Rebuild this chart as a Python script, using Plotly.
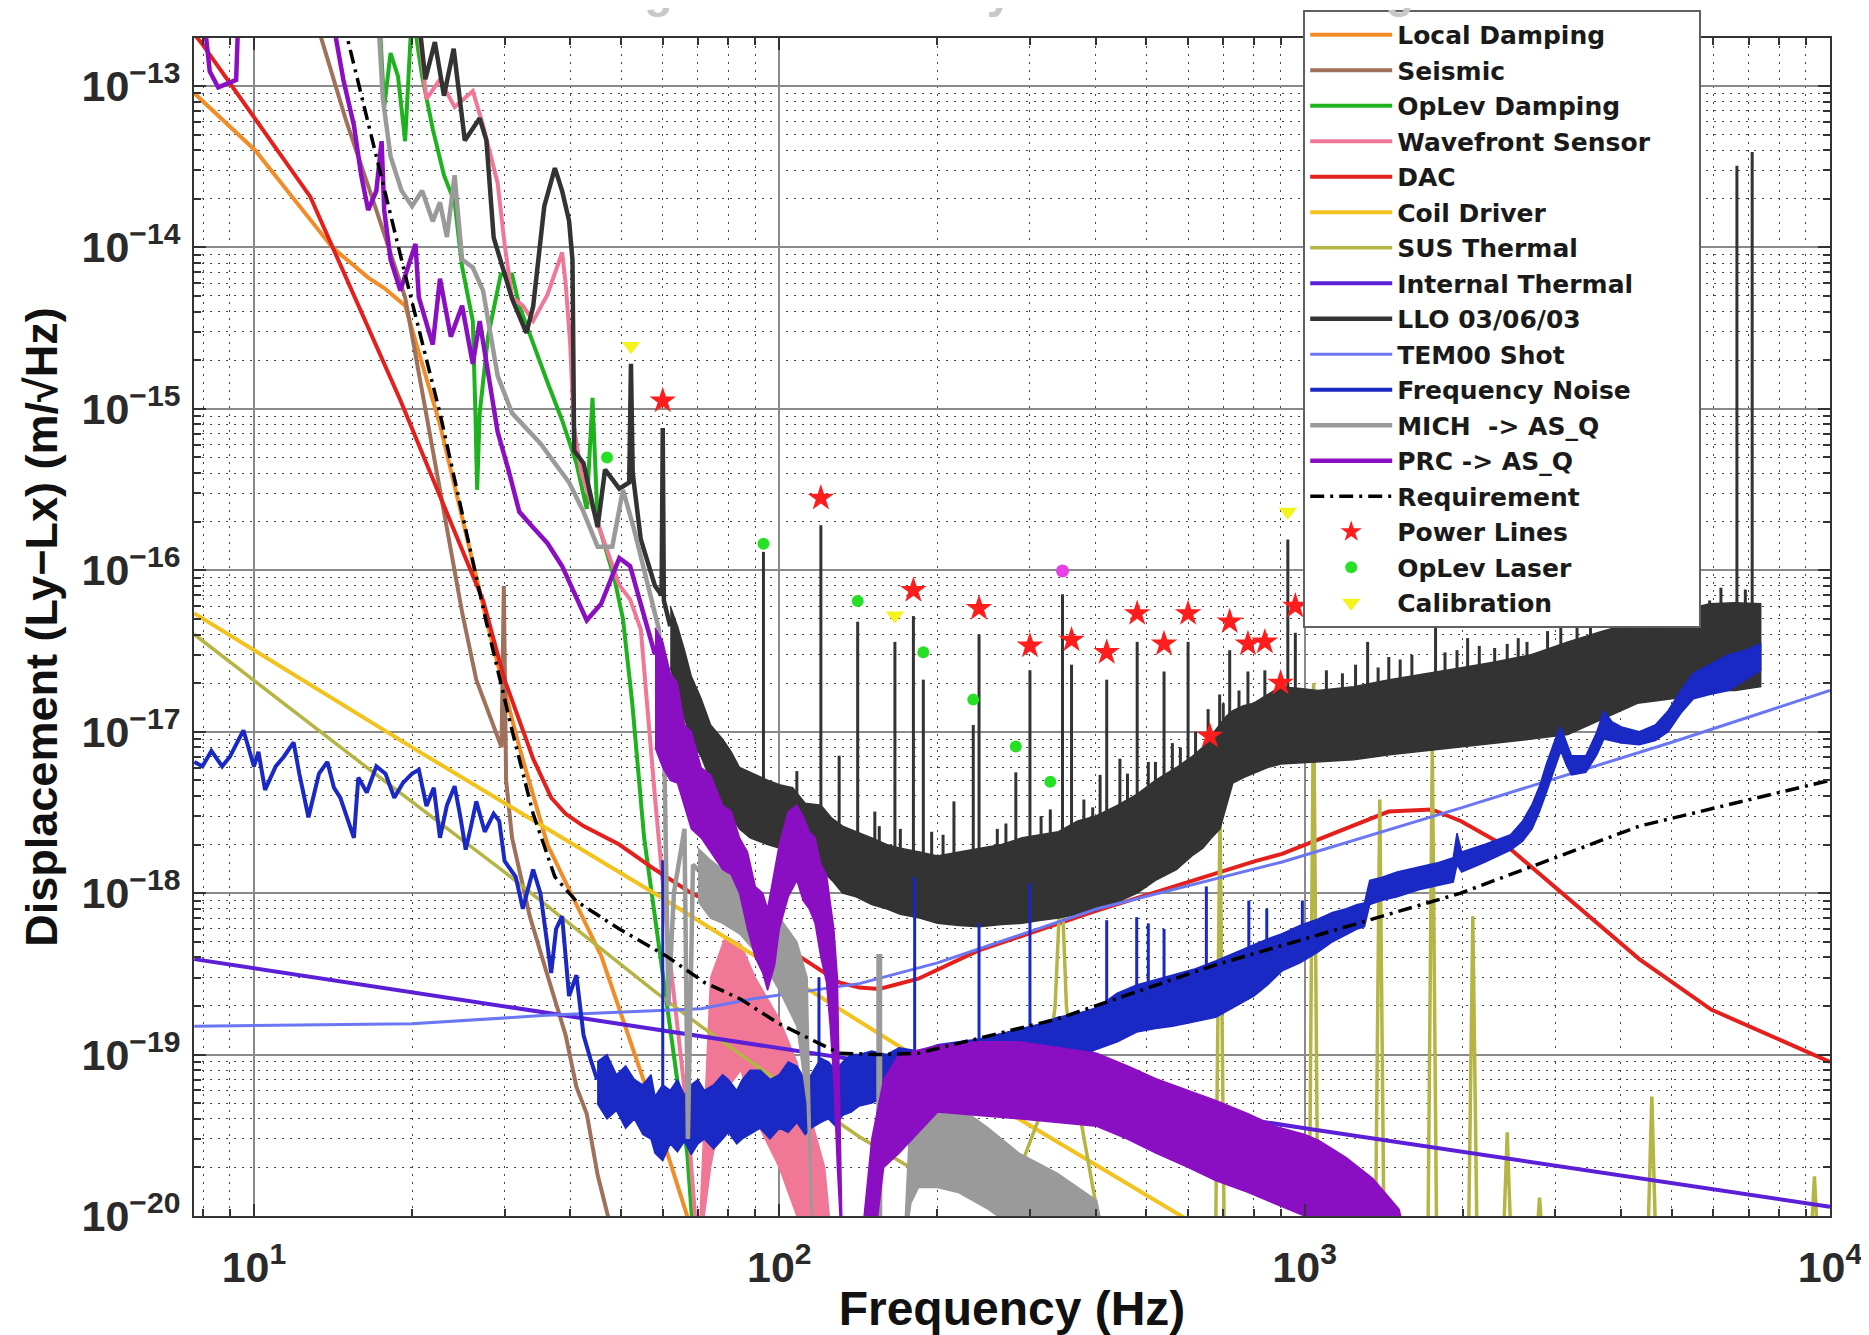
import numpy as np
import plotly.graph_objects as go

FONT = "Liberation Sans, Arial, Helvetica, sans-serif"
LFONT = "DejaVu Sans, Liberation Sans, Arial, sans-serif"
FLOOR = 5e-21  # value below the bottom of the y range

# ---------------- data (frequency in Hz, displacement in m/rtHz) ----------------
ld_f = [7.7, 10.05, 14.1, 16.5, 17.7, 19.4, 22.6, 27.9, 32.0, 36.2, 45.8, 57.1, 66.8, 70.0]
ld_v = [9.0e-14, 4.0e-14, 1.0e-14, 6.5e-15, 5.6e-15, 4.35e-15, 8e-16, 4.5e-17, 8e-18, 2.0e-18, 4.1e-19, 5e-20, 1e-20, 6e-21]

seis_f = [13.3, 15.0, 17.1, 19.4, 22.6, 24.9, 26.5, 28.2, 29.6, 29.9, 30.2, 31.0, 33.5, 36.2, 39.2, 41.1, 43.0, 45.1, 47.3, 48.5]
seis_v = [2.2e-13, 6e-14, 1.7e-14, 4.9e-15, 3.15e-16, 5.5e-17, 2.1e-17, 1.2e-17, 8e-18, 8e-17, 5e-18, 2.2e-18, 7.2e-19, 3.1e-19, 1.32e-19, 6.3e-20, 4.3e-20, 1.8e-20, 1e-20, 7e-21]

old_f = [17.3, 17.7, 18.2, 18.8, 19.4, 20.0, 20.9, 21.9, 23.0, 24.1, 24.9, 26.1, 26.4, 26.6, 26.9, 27.9, 29.5, 31.0, 32.0, 34.0,
         36.2, 38.6, 41.1, 43.0, 44.1, 45.1, 48.5, 50.4, 52.5, 55.3, 58.0, 60.8, 63.8, 66.8, 68.5]
old_v = [3e-13, 7.4e-14, 1.6e-13, 1.15e-13, 4.55e-14, 3e-13, 1.15e-13, 5.4e-14, 2.8e-14, 1.9e-14, 7.6e-15, 3.5e-15, 9.4e-16, 3.15e-16, 9.4e-16, 2.8e-15, 6.8e-15, 6.8e-15, 4.35e-15, 2.5e-15,
         1.46e-15, 8.5e-16, 4.6e-16, 2.4e-16, 1.17e-15, 2.0e-16, 9e-17, 5e-17, 1.5e-17, 2.2e-18, 7.2e-19, 2.3e-19, 7.6e-20, 2.45e-20, 8e-21]

wfs_f = [20.4, 21.3, 22.6, 24.1, 26.1, 27.3, 29.1, 30.0, 31.0, 32.5, 34.0, 36.2, 38.6, 39.2, 40.0, 40.6, 42.0, 45.0, 49.6, 52.0,
         54.5, 58.0, 61.8, 66.8, 69.5]
wfs_v = [3e-13, 8.3e-14, 1.1e-13, 7.4e-14, 9.3e-14, 5.7e-14, 2.5e-14, 1.05e-14, 4.9e-15, 4.35e-15, 3.5e-15, 5.1e-15, 9.3e-15, 6e-15, 2.5e-15, 8e-16, 4e-16, 2e-16, 8.1e-17, 6.6e-17,
         4.3e-17, 3.9e-18, 4.1e-19, 4.3e-20, 8e-21]
wfs_b_f = [70, 74, 79, 84.5, 90, 100, 108, 115, 122, 127]
wfs_b_hi = [5e-21, 3e-19, 5.4e-19, 4.8e-19, 3e-19, 1.66e-19, 9e-20, 4e-20, 2e-20, 5e-21]
wfs_b_lo = [5e-21, 2e-20, 6e-20, 8e-20, 4e-20, 2e-20, 1e-20, 5e-21, 5e-21, 5e-21]

dac_f = [7.7, 7.95, 12.8, 19.0, 27.3, 30.0, 34.0, 36.8, 39.2, 42.4, 49.6, 58, 68, 92, 110, 130, 142, 155, 184, 239,
         402, 805, 906, 1445, 1745, 1982, 2466, 3170, 4335, 5940, 10000]
dac_v = [2.1e-13, 1.84e-13, 2.06e-14, 1.13e-15, 6.5e-17, 2.1e-17, 6.8e-18, 3.9e-18, 3.1e-18, 2.6e-18, 2.0e-18, 1.4e-18, 1.0e-18, 6.2e-19, 4.0e-19, 2.8e-19, 2.6e-19, 2.55e-19, 2.95e-19, 4.4e-19,
         7.8e-19, 1.58e-18, 1.75e-18, 3.2e-18, 3.3e-18, 2.8e-18, 1.87e-18, 9.3e-19, 3.9e-19, 1.9e-19, 9.0e-20]

cd_f = [7.7, 20, 59, 71, 200, 598, 700]
cd_v = [5.4e-17, 8.0e-18, 9.6e-19, 6.6e-19, 8.0e-20, 9.5e-21, 7e-21]

sus_f = [7.7, 16.3, 30, 58, 70.9, 88.3, 142, 200, 239, 286, 316, 335, 344, 352, 370, 402, 430]
sus_v = [4.0e-17, 6.1e-18, 1.35e-18, 2.45e-19, 1.5e-19, 9e-20, 3.1e-20, 1.58e-20, 1.5e-20, 1.9e-20, 4.5e-20, 2e-19, 1.4e-18, 2e-19, 5e-20, 1.1e-20, 5e-21]
sus_spike_f = [690, 1040, 1390, 1750, 2090, 2430, 2800, 4580, 9340]
sus_spike_top = [3.2e-18, 2e-17, 3.8e-18, 8.5e-18, 7.2e-19, 3.3e-20, 1.3e-20, 5.5e-20, 1.76e-20]

it_f = [7.7, 100, 1000, 10000]
it_v = [3.9e-19, 1.1e-19, 3.5e-20, 1.14e-20]

llo_f = [20.5, 21.2, 22.1, 23.0, 24.0, 25.2, 26.9, 27.7, 28.6, 31.0, 33.0, 34.0, 35.7, 37.4, 38.6, 39.8, 40.4, 40.7, 42.4, 45.1,
         46.6, 49.6, 51.8, 52.2, 52.6, 54.5, 58.0, 59.7, 60.0, 60.3, 62.0]
llo_v = [3e-13, 1.1e-13, 1.87e-13, 8.7e-14, 1.7e-13, 4.6e-14, 6.3e-14, 4.6e-14, 1.15e-14, 4.8e-15, 2.95e-15, 4.3e-15, 1.8e-14, 3.1e-14, 2.24e-14, 1.46e-14, 8.3e-15, 5.5e-16, 4.6e-16, 1.85e-16,
         4.2e-16, 3.2e-16, 3.5e-16, 1.9e-15, 4.0e-16, 1.55e-16, 8.0e-17, 7.0e-17, 7.6e-16, 6.5e-17, 4.5e-17]
llo_b_f = [62, 64, 66, 68, 71, 74, 78, 81, 84, 88, 95, 100, 106, 112, 120, 126, 132, 140, 150, 160,
           170, 185, 200, 220, 240, 265, 290, 315, 340, 370, 400, 440, 480, 520, 570, 610, 640, 665, 690, 710,
           730, 765, 800, 850, 900, 980, 1060, 1150, 1240, 1450, 1700, 2000, 2300, 2700, 3170, 3700, 4300, 5000, 5900, 6600,
           7380]
llo_b_hi = [6e-17, 4.5e-17, 3.2e-17, 2.2e-17, 1.6e-17, 1.1e-17, 9e-18, 7.5e-18, 6e-18, 5.6e-18, 5e-18, 4.7e-18, 4.5e-18, 3.6e-18, 3.5e-18, 2.9e-18, 2.6e-18, 2.4e-18, 2.2e-18, 2.0e-18,
            1.9e-18, 1.8e-18, 1.7e-18, 1.8e-18, 1.9e-18, 2.0e-18, 2.2e-18, 2.3e-18, 2.4e-18, 2.8e-18, 3.0e-18, 3.5e-18, 4.1e-18, 5.0e-18, 6.0e-18, 7.0e-18, 8.0e-18, 9.5e-18, 1.1e-17, 1.25e-17,
            1.35e-17, 1.45e-17, 1.5e-17, 1.7e-17, 1.9e-17, 1.85e-17, 1.8e-17, 1.85e-17, 1.9e-17, 2.1e-17, 2.3e-17, 2.5e-17, 2.7e-17, 3.0e-17, 3.6e-17, 4.2e-17, 4.8e-17, 5.4e-17, 6.2e-17, 6.3e-17,
            6.2e-17]
llo_b_lo = [2.5e-17, 1.8e-17, 1.2e-17, 9e-18, 7e-18, 5e-18, 3.5e-18, 3e-18, 2.5e-18, 2.2e-18, 2.0e-18, 1.9e-18, 1.8e-18, 1.6e-18, 1.4e-18, 1.2e-18, 1.0e-18, 9.5e-19, 8.5e-19, 8e-19,
            7.4e-19, 7e-19, 6.5e-19, 6.3e-19, 6.2e-19, 6.4e-19, 6.5e-19, 6.8e-19, 7e-19, 7.4e-19, 7.8e-19, 8.8e-19, 1e-18, 1.2e-18, 1.4e-18, 1.7e-18, 1.9e-18, 2.2e-18, 2.5e-18, 3.5e-18,
            4.8e-18, 5.2e-18, 5.5e-18, 6e-18, 6.3e-18, 6.4e-18, 6.5e-18, 6.6e-18, 6.7e-18, 7.2e-18, 7.6e-18, 8e-18, 8.5e-18, 9e-18, 9.6e-18, 1.2e-17, 1.5e-17, 1.6e-17, 1.8e-17, 1.8e-17,
            1.9e-17]
llo_spike_f = [93.3, 108, 120, 130, 141, 152, 166, 180, 188, 215, 234, 240, 282, 300, 328, 346, 360, 408, 420, 445,
               480, 504, 540, 600, 655, 689, 720, 750, 780, 840, 900, 929, 960, 1318, 1446, 1775, 2043, 2430, 3073, 5900,
               6650, 7110,
               155, 170, 195, 205, 260, 270, 315, 380, 395, 460, 520, 560, 580, 620, 700, 1100, 1180, 1250, 1380, 1520,
               1600, 1850, 1950, 2150, 2300, 2550, 2650, 2900, 3300, 3500, 3900, 4100, 4500, 4800, 5300, 5600, 6200, 6900]
llo_spike_top = [1.3e-16, 5.7e-18, 1.9e-16, 7.1e-18, 4.8e-17, 3.2e-18, 3.6e-17, 5.2e-17, 2.1e-17, 3.7e-18, 1.1e-17, 4.0e-17, 5.6e-18, 2.4e-17, 3.3e-18, 7.1e-17, 2.6e-17, 5.4e-18, 2.1e-17, 6.8e-18,
                 3.6e-17, 6.5e-18, 2.36e-17, 3.6e-17, 1.38e-17, 1.7e-17, 3.2e-17, 1.8e-17, 2.36e-17, 2.4e-17, 1.7e-17, 1.55e-16, 4.1e-17, 3.6e-17, 2.9e-17, 4.8e-17, 3.8e-17, 3.5e-17, 4.5e-17, 6.5e-17,
                 3.2e-14, 3.9e-14,
                 2.6e-18, 2.5e-18, 2.4e-18, 2.3e-18, 2.5e-18, 2.7e-18, 3.0e-18, 3.8e-18, 3.4e-18, 5.5e-18, 6.5e-18, 8.5e-18, 8e-18, 1.0e-17, 1.5e-17, 2.4e-17, 2.3e-17, 2.6e-17, 2.5e-17, 2.8e-17,
                 3.0e-17, 3.1e-17, 3.2e-17, 3.4e-17, 3.3e-17, 3.8e-17, 3.6e-17, 4.2e-17, 4.8e-17, 5.2e-17, 5.6e-17, 5.8e-17, 6.4e-17, 6.6e-17, 7.2e-17, 7.5e-17, 7.8e-17, 7.6e-17]

shot_f = [7.7, 20, 36, 71, 88, 142, 200, 403, 906, 2000, 5000, 10000]
shot_v = [1.5e-19, 1.55e-19, 1.75e-19, 1.92e-19, 2.2e-19, 2.75e-19, 3.7e-19, 8.0e-19, 1.56e-18, 3.4e-18, 8.6e-18, 1.8e-17]

fn_f = [7.7, 7.98, 8.3, 8.7, 9.0, 9.55, 10.0, 10.2, 10.5, 11.0, 11.4, 11.9, 12.2, 12.7, 13.3, 13.8, 14.2, 14.6, 15.5, 15.8,
        16.4, 17.1, 17.8, 18.5, 19.2, 20.0, 20.6, 21.3, 22.0, 22.6, 23.3, 24.1, 24.7, 25.3, 25.9, 26.5, 27.5, 28.6, 29.3, 30.0,
        31.5, 32.5, 34.0, 35.1, 36.8, 37.6, 38.6, 39.8, 41.1, 42.4, 43.7, 45]
fn_v = [6.5e-18, 6.1e-18, 7.6e-18, 6.1e-18, 7.0e-18, 1.02e-17, 6.1e-18, 7.5e-18, 4.36e-18, 6.1e-18, 7.0e-18, 8.6e-18, 5.5e-18, 2.95e-18, 5.5e-18, 6.5e-18, 4.5e-18, 3.9e-18, 2.2e-18, 5.2e-18,
        4.2e-18, 6.1e-18, 5.5e-18, 3.9e-18, 4.8e-18, 5.5e-18, 5.8e-18, 3.46e-18, 4.5e-18, 2.2e-18, 3.5e-18, 4.6e-18, 3.0e-18, 1.86e-18, 2.6e-18, 3.7e-18, 2.4e-18, 3.1e-18, 2.8e-18, 1.58e-18,
        1.26e-18, 8.0e-19, 1.4e-18, 1.0e-18, 3.2e-19, 6e-19, 7.2e-19, 2.3e-19, 3.1e-19, 1.32e-19, 9.4e-20, 7e-20]
# low-frequency part of the frequency-noise band (45-142 Hz), read with its ragged edges
fn_b1_f = [45, 47, 49, 51, 53, 55, 57, 58, 60, 62, 64, 66, 68, 70, 72, 75, 78, 80, 83, 85,
           88, 92, 96, 100, 104, 108, 112, 115, 120, 124, 128, 132, 137, 142]
fn_b1_hi = [9e-20, 1.0e-19, 7.5e-20, 8.5e-20, 7e-20, 6.5e-20, 7.5e-20, 5.5e-20, 6.5e-20, 6e-20, 7e-20, 5.6e-20, 6.5e-20, 7e-20, 6e-20, 6.5e-20, 7.5e-20, 7e-20, 6e-20, 7e-20,
            8e-20, 8e-20, 7e-20, 7.5e-20, 9e-20, 8.5e-20, 7e-20, 7.5e-20, 9.5e-20, 9e-20, 8e-20, 9e-20, 1.0e-19, 1.0e-19]
fn_b1_lo = [5e-20, 4e-20, 4.5e-20, 3.5e-20, 4e-20, 3.2e-20, 3e-20, 2.45e-20, 2.2e-20, 2.8e-20, 2.5e-20, 2.9e-20, 2.4e-20, 2.8e-20, 3e-20, 2.6e-20, 3e-20, 3.3e-20, 2.8e-20, 3e-20,
            3.2e-20, 3.5e-20, 3e-20, 3.5e-20, 3.3e-20, 3.8e-20, 3.2e-20, 3.5e-20, 3.8e-20, 4e-20, 3.6e-20, 4.2e-20, 4.4e-20, 4.8e-20]
fn_b2_f = [150, 160, 169,
           185, 200, 220, 240, 265, 290, 315, 338, 370, 402, 440, 479, 520, 560, 620, 677, 740, 800, 850, 906,
           980, 1058, 1130, 1200, 1260, 1300, 1330, 1400, 1500, 1650, 1800, 1918, 1950, 1990, 2200, 2466, 2600, 2710, 2800, 2885,
           3000, 3073, 3150, 3220, 3430, 3600, 3710, 3850, 4010, 4335, 4650, 4920, 5200, 5495, 5900, 6410, 6900, 7380]
fn_b2_hi = [1.05e-19, 1.0e-19, 1.1e-19,
            1.05e-19, 1.15e-19, 1.2e-19, 1.25e-19, 1.35e-19, 1.45e-19, 1.55e-19, 1.7e-19, 1.8e-19, 1.95e-19, 2.4e-19, 2.7e-19, 2.9e-19, 3.1e-19, 3.4e-19, 3.8e-19, 4.3e-19, 4.8e-19, 5.2e-19, 5.6e-19,
            6.3e-19, 6.9e-19, 7.6e-19, 8.0e-19, 8.5e-19, 8.7e-19, 1.2e-18, 1.25e-18, 1.35e-18, 1.45e-18, 1.55e-18, 1.66e-18, 2.35e-18, 1.8e-18, 2.0e-18, 2.3e-18, 2.8e-18, 3.55e-18, 4.6e-18, 6.3e-18,
            9e-18, 1.07e-17, 8.5e-18, 7.1e-18, 7.1e-18, 1.0e-17, 1.35e-17, 1.15e-17, 1.07e-17, 1.0e-17, 1.1e-17, 1.35e-17, 1.8e-17, 2.3e-17, 2.6e-17, 3.0e-17, 3.2e-17, 3.5e-17]
fn_b2_lo = [5e-20, 5.5e-20, 6e-20,
            6e-20, 6.2e-20, 6.5e-20, 6.8e-20, 7.2e-20, 7.5e-20, 8e-20, 8.5e-20, 9.5e-20, 1.08e-19, 1.2e-19, 1.38e-19, 1.45e-19, 1.5e-19, 1.6e-19, 1.7e-19, 2.0e-19, 2.3e-19, 2.7e-19, 3.3e-19,
            3.7e-19, 4.3e-19, 5.0e-19, 5.5e-19, 6.0e-19, 6.2e-19, 8.5e-19, 9.0e-19, 9.5e-19, 1.05e-18, 1.12e-18, 1.17e-18, 1.5e-18, 1.35e-18, 1.55e-18, 1.85e-18, 2.1e-18, 2.5e-18, 3.2e-18, 4.2e-18,
            6e-18, 7.6e-18, 6.2e-18, 5.4e-18, 5.6e-18, 7.2e-18, 9e-18, 8.8e-18, 8.5e-18, 8.3e-18, 8.8e-18, 1.0e-17, 1.3e-17, 1.6e-17, 1.7e-17, 1.8e-17, 2.1e-17, 2.4e-17]
fn_spike_f = [60, 119, 181, 240, 300, 420, 479, 504, 540, 650, 783, 847, 990]
fn_spike_top = [1.6e-18, 3e-19, 1.26e-18, 6.5e-19, 1.15e-18, 6.8e-19, 7.1e-19, 6.5e-19, 6e-19, 1.1e-18, 9e-19, 8e-19, 9e-19]

mich_f = [17.2, 17.6, 18.2, 19.1, 20.0, 20.9, 21.9, 22.6, 23.3, 24.1, 24.9, 26.1, 27.3, 28.2, 29.1, 31.0, 33.0, 35.1, 37.4, 39.8,
          42.4, 45.1, 48.1, 50.4, 52.8, 56.2, 59.0, 60.2, 61.5, 63.0, 66.0, 67.0, 68.5, 70.0]
mich_v = [3e-13, 8.3e-14, 3.66e-14, 2.24e-14, 1.8e-14, 2.24e-14, 1.45e-14, 1.9e-14, 1.16e-14, 2.8e-14, 8.4e-15, 7.5e-15, 5.4e-15, 2.8e-15, 1.6e-15, 9.4e-16, 7.6e-16, 6.1e-16, 4.6e-16, 3.5e-16,
          2.3e-16, 1.4e-16, 1.4e-16, 3.15e-16, 1.84e-16, 8.2e-17, 4.3e-17, 1.5e-17, 2e-19, 1e-18, 2.5e-18, 3e-20, 1.5e-18, 1.4e-18]
mich_b1_f = [70, 74, 78, 84, 92, 100, 108, 113, 116]
mich_b1_hi = [1.9e-18, 1.6e-18, 1.4e-18, 1.15e-18, 9e-19, 7.1e-19, 5e-19, 3e-19, 5e-21]
mich_b1_lo = [8.9e-19, 7e-19, 6.5e-19, 5.6e-19, 4e-19, 2.5e-19, 1.5e-19, 5e-20, 5e-21]
mich_spike_f = [155]
mich_spike_top = [4.2e-19]
mich_b2_f = [172, 178, 184, 200, 219, 250, 286, 338, 402, 425]
mich_b2_hi = [5e-21, 5e-20, 5.5e-20, 5.2e-20, 4.8e-20, 3.5e-20, 2.45e-20, 1.84e-20, 1.25e-20, 5e-21]
mich_b2_lo = [5e-21, 1.2e-20, 1.5e-20, 1.5e-20, 1.4e-20, 1.1e-20, 8e-21, 5e-21, 5e-21, 5e-21]

prc_f = [8.0, 8.24, 8.55, 8.87, 9.25, 9.35, 14.0, 14.8, 15.5, 16.0, 16.5, 17.1, 17.5, 17.7, 18.2, 19.0, 20.3, 20.6, 21.9, 22.6,
         23.7, 24.9, 26.1, 26.9, 27.9, 29.1, 30.5, 32.0, 34.0, 36.2, 38.6, 41.1, 43.0, 45.8, 49.6, 52.0, 54.5, 58.0]
prc_v = [3e-13, 1.23e-13, 9.8e-14, 1.03e-13, 1.09e-13, 3e-13, 3e-13, 1.09e-13, 5.7e-14, 2.8e-14, 1.7e-14, 2.24e-14, 4.55e-14, 1.7e-14, 8.4e-15, 5.4e-15, 1.05e-14, 4.9e-15, 2.5e-15, 6.4e-15,
         2.8e-15, 4.35e-15, 1.9e-15, 3.5e-15, 1.6e-15, 7.2e-16, 4.2e-16, 2.3e-16, 1.84e-16, 1.47e-16, 1.06e-16, 6.9e-17, 4.9e-17, 6.2e-17, 1.19e-16, 1.06e-16, 6.2e-17, 3.0e-17]
prc_b1_f = [58, 60, 62, 64, 66, 68, 71, 74, 78, 81, 84, 87, 90, 93, 95, 98, 100, 104, 108, 111,
            114, 117, 120, 123, 125, 127, 129, 132]
prc_b1_hi = [4.4e-17, 3.6e-17, 2.3e-17, 2.0e-17, 1.1e-17, 1.0e-17, 6e-18, 5.4e-18, 3.5e-18, 3.2e-18, 2.2e-18, 1.8e-18, 1.1e-18, 1.0e-18, 8e-19, 1.4e-18, 2.0e-18, 3.2e-18, 3.5e-18, 3.0e-18,
             2.4e-18, 2.2e-18, 1.5e-18, 1.3e-18, 9e-19, 6e-19, 3e-19, 5e-21]
prc_b1_lo = [8e-18, 6e-18, 5e-18, 4.8e-18, 3.5e-18, 2.5e-18, 2.2e-18, 1.8e-18, 1.4e-18, 1.3e-18, 1e-18, 6e-19, 4e-19, 3.2e-19, 2.5e-19, 3.6e-19, 6e-19, 9.5e-19, 1.2e-18, 9e-19,
             8e-19, 6.5e-19, 4e-19, 2.8e-19, 1.5e-19, 7e-20, 2e-20, 5e-21]
prc_b2_f = [142, 150, 158, 169, 200, 240, 286, 340, 402, 460, 521, 600, 677, 780, 877, 1000, 1062, 1200, 1350, 1513, 1600]
prc_b2_hi = [5e-21, 3e-20, 7e-20, 1.0e-19, 1.14e-19, 1.2e-19, 1.2e-19, 1.1e-19, 1.02e-19, 8.5e-20, 7.1e-20, 6e-20, 5.2e-20, 4.3e-20, 3.6e-20, 3.2e-20, 2.95e-20, 2.3e-20, 1.7e-20, 1.1e-20, 5e-21]
prc_b2_lo = [5e-21, 5e-21, 2e-20, 2.45e-20, 4.4e-20, 4.2e-20, 4e-20, 3.8e-20, 3.6e-20, 3e-20, 2.45e-20, 2e-20, 1.66e-20, 1.4e-20, 1.19e-20, 1e-20, 5e-21, 5e-21, 5e-21, 5e-21, 5e-21]

req_f = [14.8, 15.2, 17.1, 19.4, 22.6, 27.6, 31.0, 34.0, 37.4, 41.1, 49.6, 60.8, 72, 84.5, 100, 130, 155, 184, 239, 338,
         479, 677, 1000, 1982, 4335, 10000]
req_v = [2.5e-13, 1.74e-13, 3.66e-14, 6.8e-15, 9.4e-16, 5.0e-17, 1.02e-17, 3.1e-18, 1.26e-18, 8.9e-19, 6.0e-19, 4.1e-19, 2.8e-19, 2.2e-19, 1.55e-19, 1.02e-19, 1.0e-19, 1.02e-19, 1.26e-19, 1.66e-19,
         2.45e-19, 3.6e-19, 5.2e-19, 1.0e-18, 2.6e-18, 5.0e-18]

pl_f = [60, 120, 180, 240, 300, 360, 420, 480, 540, 600, 660, 720, 780, 840, 900, 960]
pl_v = [1.12e-15, 2.8e-16, 7.5e-17, 5.8e-17, 3.4e-17, 3.7e-17, 3.1e-17, 5.4e-17, 3.5e-17, 5.4e-17, 9.4e-18, 4.8e-17, 3.5e-17, 3.6e-17, 2.0e-17, 6.0e-17]
ol_f = [47, 93.3, 141, 188, 234, 282, 328]
ol_v = [5.0e-16, 1.46e-16, 6.45e-17, 3.1e-17, 1.58e-17, 8.1e-18, 4.9e-18]
cal_f = [52.2, 166, 929]
cal_v = [2.45e-15, 5.25e-17, 2.3e-16]
extra_f = [346]
extra_v = [9.9e-17]

x_major = [10, 100, 1000, 10000]
x_minor = [k * 10 ** e for e in range(0, 4) for k in range(2, 10) if k * 10 ** e >= 8]
y_major_exp = list(range(-20, -12))
y_minor = [k * 10.0 ** e for e in range(-20, -12) for k in range(2, 10)]

# ---------------- figure ----------------
C = dict(ld="#f28c28", seis="#a0705a", old="#1fb21f", wfs="#f07896", dac="#e3201c", cd="#f2c21e",
         sus="#b5b545", it="#5a1fd6", llo="#333333", shot="#6b77f2", fn="#1a28c4", mich="#9a9a9a",
         prc="#8b0fc2", req="#000000")

fig = go.Figure()


def add_line(f, v, name, color, width=4.0, dash=None, show=True, group=None):
    fig.add_trace(go.Scatter(x=f, y=v, mode="lines", name=name,
                             line=dict(color=color, width=width, dash=dash),
                             showlegend=show, legendgroup=group or name, hoverinfo="skip"))


def add_band(f, lo, hi, color, group):
    assert len(f) == len(lo) == len(hi), (group, len(f), len(lo), len(hi))
    fig.add_trace(go.Scatter(x=list(f) + list(f)[::-1], y=list(hi) + list(lo)[::-1],
                             mode="lines", fill="toself", fillcolor=color,
                             line=dict(color=color, width=1.5),
                             showlegend=False, legendgroup=group, hoverinfo="skip"))


def add_spikes(f, top, base_f, base_v, color, group, width=2.5):
    assert len(f) == len(top)
    lbf, lbv = np.log10(base_f), np.log10(base_v)
    xs, ys = [], []
    for ff, tt in zip(f, top):
        b = 10 ** np.interp(np.log10(ff), lbf, lbv)
        xs += [ff, ff, None]
        ys += [b * 0.8, tt, None]
    fig.add_trace(go.Scatter(x=xs, y=ys, mode="lines", line=dict(color=color, width=width),
                             showlegend=False, legendgroup=group, hoverinfo="skip"))


for a, b in [(ld_f, ld_v), (seis_f, seis_v), (old_f, old_v), (wfs_f, wfs_v), (dac_f, dac_v), (sus_f, sus_v),
             (llo_f, llo_v), (fn_f, fn_v), (mich_f, mich_v), (prc_f, prc_v), (req_f, req_v), (pl_f, pl_v)]:
    assert len(a) == len(b), (len(a), len(b))

add_line(ld_f, ld_v, "Local Damping", C["ld"])
add_line(seis_f, seis_v, "Seismic", C["seis"])
add_line(old_f, old_v, "OpLev Damping", C["old"])
add_line(wfs_f, wfs_v, "Wavefront Sensor" + "\u00a0" * 5, C["wfs"], group="wfs")
add_band(wfs_b_f, wfs_b_lo, wfs_b_hi, C["wfs"], "wfs")
add_line(dac_f, dac_v, "DAC", C["dac"])
add_line(cd_f, cd_v, "Coil Driver", C["cd"])

sus_x, sus_y = list(sus_f), list(sus_v)
for ff, tt in zip(sus_spike_f, sus_spike_top):
    sus_x += [None, ff * 0.98, ff, ff * 1.02]
    sus_y += [None, FLOOR, tt, FLOOR]
add_line(sus_x, sus_y, "SUS Thermal", C["sus"], width=3.5)
add_line(it_f, it_v, "Internal Thermal", C["it"])

add_line(llo_f, llo_v, "LLO 03/06/03", C["llo"], width=4.5)
add_band(llo_b_f, llo_b_lo, llo_b_hi, C["llo"], "LLO 03/06/03")
add_spikes(llo_spike_f, llo_spike_top, llo_b_f, llo_b_hi, C["llo"], "LLO 03/06/03", width=3)

add_line(shot_f, shot_v, "TEM00 Shot", C["shot"], width=3)

fn_b_f = fn_b1_f + fn_b2_f
fn_b_lo = fn_b1_lo + fn_b2_lo
fn_b_hi = fn_b1_hi + fn_b2_hi
add_line(fn_f, fn_v, "Frequency Noise", C["fn"], width=4)
add_band(fn_b_f, fn_b_lo, fn_b_hi, C["fn"], "Frequency Noise")
add_spikes(fn_spike_f, fn_spike_top, fn_b_f, fn_b_hi, C["fn"], "Frequency Noise", width=3)

mich_name = "MICH\u00a0 -> AS_Q"
add_line(mich_f, mich_v, mich_name, C["mich"], width=4.5)
add_band(mich_b1_f, mich_b1_lo, mich_b1_hi, C["mich"], mich_name)
add_spikes(mich_spike_f, mich_spike_top, [100, 200], [FLOOR, FLOOR], C["mich"], mich_name, width=6)
add_band(mich_b2_f, mich_b2_lo, mich_b2_hi, C["mich"], mich_name)

add_line(prc_f, prc_v, "PRC -> AS_Q", C["prc"], width=4.5)
add_band(prc_b1_f, prc_b1_lo, prc_b1_hi, C["prc"], "PRC -> AS_Q")
add_band(prc_b2_f, prc_b2_lo, prc_b2_hi, C["prc"], "PRC -> AS_Q")

add_line(req_f, req_v, "Requirement", C["req"], width=3.5, dash="14px,6px,3px,6px")

fig.add_trace(go.Scatter(x=pl_f, y=pl_v, mode="markers", name="Power Lines",
                         marker=dict(symbol="star", size=20, color="#ff1c1c", line=dict(width=0)),
                         hoverinfo="skip"))
fig.add_trace(go.Scatter(x=ol_f, y=ol_v, mode="markers", name="OpLev Laser",
                         marker=dict(symbol="circle", size=12, color="#26e026", line=dict(width=0)),
                         hoverinfo="skip"))
fig.add_trace(go.Scatter(x=cal_f, y=cal_v, mode="markers", name="Calibration",
                         marker=dict(symbol="triangle-down", size=16, color="#f4f41c", line=dict(width=0)),
                         hoverinfo="skip"))
fig.add_trace(go.Scatter(x=extra_f, y=extra_v, mode="markers", showlegend=False,
                         marker=dict(symbol="circle", size=13, color="#e640e6", line=dict(width=0)),
                         hoverinfo="skip"))

axis_common = dict(type="log", ticks="inside", ticklen=12, tickwidth=1.5, tickcolor="#333",
                   showline=True, linecolor="#333", linewidth=2, mirror="ticks",
                   showgrid=True, gridcolor="#8a8a8a", gridwidth=1.5, zeroline=False, automargin=False,
                   tickfont=dict(family=FONT, size=43, color="#2a2a2a"))

fig.update_xaxes(**axis_common, range=[np.log10(7.69), 4.0], tickmode="array", tickvals=x_major,
                 ticktext=[f"<b>10<sup>{e}</sup></b>" for e in range(1, 5)], ticklabelstandoff=12,
                 minor=dict(tickmode="array", tickvals=x_minor, ticks="inside", ticklen=7, tickcolor="#333",
                            showgrid=True, gridcolor="#444", griddash="2px,6px", gridwidth=1.3),
                 title=dict(text="<b>Frequency (Hz)</b>", font=dict(family=FONT, size=48, color="#111"), standoff=2))
fig.update_yaxes(**axis_common, range=[-20, -12.703], tickmode="array", tickvals=[10.0 ** e for e in y_major_exp],
                 ticktext=[f"<b>10<sup>\u2212{-e}</sup></b>" for e in y_major_exp], ticklabelstandoff=3,
                 minor=dict(tickmode="array", tickvals=y_minor, ticks="inside", ticklen=7, tickcolor="#333",
                            showgrid=True, gridcolor="#444", griddash="2px,6px", gridwidth=1.3),
                 title=dict(text="<b>Displacement (Ly\u2212Lx) (m/\u221aHz)</b>", font=dict(family=FONT, size=45, color="#111"), standoff=10))

# The page body adds an 8 px offset, so the margins are shifted to keep the plot area
# at the same place as in the reference picture.
fig.update_layout(
    width=1869, height=1335,
    margin=dict(l=186, r=47, t=30, b=127, autoexpand=False),
    paper_bgcolor="white", plot_bgcolor="white",
    font=dict(family=FONT),
    legend=dict(x=0.678, y=1.0238, xanchor="left", yanchor="top", bgcolor="white",
                bordercolor="#606060", borderwidth=2, traceorder="normal", tracegroupgap=0,
                font=dict(family=LFONT, size=25, color="#1a1a1a", weight="bold"), itemwidth=82),
    annotations=[dict(text="<b>Livingston Sensitivity - 4km Noise Budget</b>", xref="paper", yref="paper",
                      x=0.49, y=1.016, xanchor="center", yanchor="bottom", showarrow=False,
                      font=dict(family=FONT, size=46, color="#c8c8c8"))],
)

fig.write_html("out.html")
